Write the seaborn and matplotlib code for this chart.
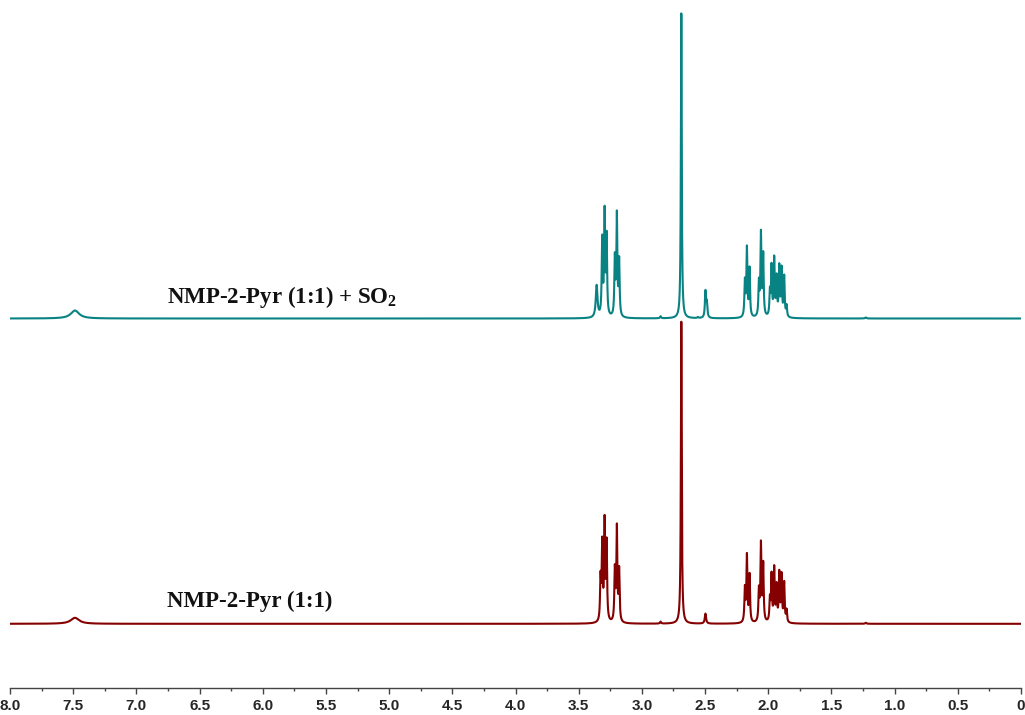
import numpy as np
import pandas as pd
import matplotlib
matplotlib.use("Agg")
import matplotlib.pyplot as plt
import seaborn as sns

# ---- data: peak lists (ppm, height in px units, half-width ppm)
top_ppm = [7.486, 3.358, 3.314, 3.295, 3.279, 3.214, 3.198, 3.180, 2.852, 2.688, 2.557,
           2.497, 2.486, 2.185, 2.169, 2.148, 2.074, 2.058, 2.040, 1.987, 1.974, 1.953,
           1.934, 1.913, 1.895, 1.874, 1.855, 1.228]
top_h = [8, 32, 76, 102, 78, 57, 100, 55, 2, 305, 1,
         26, 14, 35, 68, 48, 33, 82, 61, 24, 49, 57,
         38, 49, 47, 40, 11, 1]
top_w = [0.04, 0.008, 0.0045, 0.0045, 0.0045, 0.0045, 0.0045, 0.0045, 0.005, 0.004, 0.005,
         0.005, 0.005, 0.0045, 0.0045, 0.0045, 0.0045, 0.0045, 0.0045, 0.0045, 0.0045, 0.0045,
         0.0045, 0.0045, 0.0045, 0.0045, 0.0045, 0.006]

bot_ppm = [7.486, 3.327, 3.314, 3.295, 3.279, 3.214, 3.198, 3.180, 2.852, 2.688,
           2.497, 2.185, 2.169, 2.148, 2.074, 2.058, 2.040, 1.987, 1.974, 1.953,
           1.934, 1.913, 1.895, 1.874, 1.855, 1.228]
bot_h = [6, 42, 76, 98, 77, 51, 93, 51, 2, 302,
         10, 33, 66, 47, 31, 77, 57, 22, 46, 53,
         35, 48, 46, 39, 12, 1]
bot_w = [0.04, 0.0045, 0.0045, 0.0045, 0.0045, 0.0045, 0.0045, 0.0045, 0.005, 0.004,
         0.006, 0.0045, 0.0045, 0.0045, 0.0045, 0.0045, 0.0045, 0.0045, 0.0045, 0.0045,
         0.0045, 0.0045, 0.0045, 0.0045, 0.0045, 0.006]

top_offset = 369.5
bot_offset = 64.2
labels = ["NMP-2-Pyr (1:1) + SO$_2$", "NMP-2-Pyr (1:1)"]
tick_vals = [8.0, 7.5, 7.0, 6.5, 6.0, 5.5, 5.0, 4.5, 4.0, 3.5, 3.0, 2.5, 2.0, 1.5, 1.0, 0.5, 0.0]
tick_labels = ["8.0", "7.5", "7.0", "6.5", "6.0", "5.5", "5.0", "4.5", "4.0", "3.5",
               "3.0", "2.5", "2.0", "1.5", "1.0", "0.5", "0"]

x = np.linspace(8.0, 0.0, 40001)


def spectrum(ppm, h, w):
    y = np.zeros_like(x)
    for p, a, g in zip(ppm, h, w):
        y += a / (1.0 + ((x - p) / g) ** 2)
    return y


df = pd.concat([
    pd.DataFrame({"ppm": x, "I": spectrum(top_ppm, top_h, top_w) + top_offset, "s": labels[0]}),
    pd.DataFrame({"ppm": x, "I": spectrum(bot_ppm, bot_h, bot_w) + bot_offset, "s": labels[1]}),
])

sns.set_theme(style="white")
plt.rcParams["mathtext.fontset"] = "custom"
plt.rcParams["mathtext.rm"] = "Liberation Serif:bold"
plt.rcParams["mathtext.it"] = "Liberation Serif:bold"
plt.rcParams["mathtext.bf"] = "Liberation Serif:bold"
plt.rcParams["mathtext.default"] = "rm"

fig = plt.figure(figsize=(10.25, 7.15), dpi=100)
ax = fig.add_axes([10 / 1025, 1 - 688 / 715, 1011 / 1025, 688 / 715])
sns.lineplot(data=df, x="ppm", y="I", hue="s", palette=["#088282", "#850000"],
             estimator=None, sort=False, linewidth=1.5, legend=False, ax=ax)

ax.set_xlim(8.0, 0.0)
ax.set_ylim(0, 688)
ax.set_xlabel("")
ax.set_ylabel("")
ax.set_yticks([])
for s in ["left", "top", "right"]:
    ax.spines[s].set_visible(False)
ax.spines["bottom"].set_color("#444444")
ax.spines["bottom"].set_linewidth(1.0)
ax.set_xticks(tick_vals)
ax.set_xticklabels(tick_labels, fontfamily="Liberation Sans", fontweight="bold", fontsize=11)
ax.set_xticks(np.arange(0.25, 8.0, 0.5), minor=True)
ax.tick_params(axis="x", which="major", direction="out", length=4, width=1, color="#444444",
               pad=4, bottom=True)
ax.tick_params(axis="x", which="minor", direction="out", length=2, width=1, color="#444444",
               bottom=True)

txt_kw = dict(fontfamily="Liberation Serif", fontweight="bold", fontsize=16.5,
              ha="left", va="baseline", color="#111111")
ax.text(6.758, 688 - 303, labels[0], **txt_kw)
ax.text(6.758, 688 - 607.5, labels[1], **txt_kw)

fig.savefig("out.png", dpi=100)
